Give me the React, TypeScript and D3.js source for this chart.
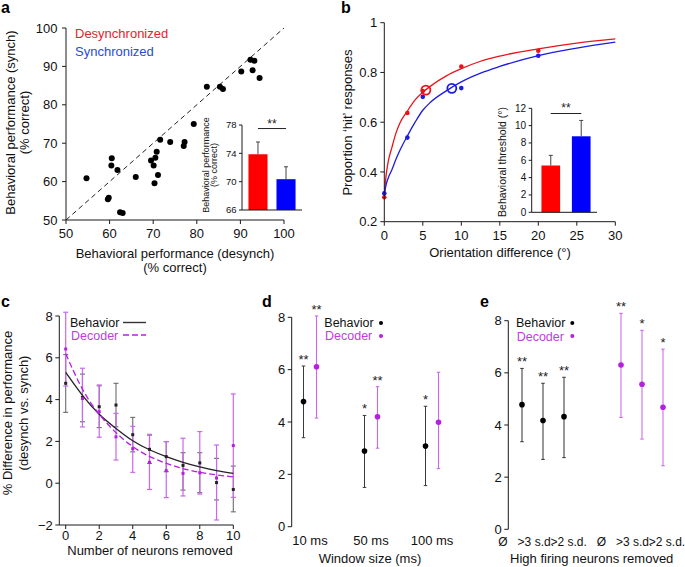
import React from 'react';
import * as d3 from 'd3';

const FONT = "'Liberation Sans', Arial, Helvetica, sans-serif";

// ---------- Panel a data ----------
const perfDesynch = [54.7, 60.5, 60.4, 61.8, 59.8, 59.6, 62.4, 63.0, 66.0, 69.5, 70.1, 70.5, 70.8, 70.3, 71.1, 71.6, 73.9, 77.2, 77.0, 79.3, 82.3, 85.3, 86.0, 90.2, 92.3, 93.2, 92.8, 94.4];
const perfSynch = [60.9, 66.1, 64.2, 63.0, 55.8, 55.4, 52.0, 51.8, 61.2, 65.5, 64.2, 66.2, 67.8, 59.6, 61.7, 70.9, 70.3, 70.3, 69.3, 75.0, 84.7, 84.7, 84.1, 88.7, 91.7, 91.5, 89.0, 87.0];
const aTicks = [50, 60, 70, 80, 90, 100];
const conditions = ['Desynchronized', 'Synchronized'];
const insetPerfMean = [73.87, 70.35];
const insetPerfErr = [75.6, 72.1];
const insetPerfTicks = [66, 70, 74, 78];

// ---------- Panel b data ----------
const orientations = [0, 3, 5, 10, 20];
const hitDesynch = [0.298, 0.637, 0.725, 0.824, 0.887];
const hitSynch = [0.314, 0.538, 0.702, 0.737, 0.867];
const fitX = [0, 0.25, 0.5, 1, 1.5, 2, 3, 4, 5, 6, 8, 10, 12.5, 15, 20, 25, 30];
const fitDesynch = [0.31, 0.39, 0.44, 0.5, 0.555, 0.595, 0.645, 0.69, 0.72, 0.745, 0.785, 0.815, 0.845, 0.866, 0.895, 0.918, 0.935];
const fitSynch = [0.31, 0.35, 0.375, 0.41, 0.45, 0.485, 0.545, 0.6, 0.648, 0.68, 0.725, 0.762, 0.797, 0.824, 0.868, 0.898, 0.922];
const thresholdMean = [5.4, 8.77];
const thresholdErr = [6.57, 10.6];
const thresholdHit = [0.729, 0.736];
const bXTicks = [0, 5, 10, 15, 20, 25, 30];
const bYTicks = [0.2, 0.4, 0.6, 0.8, 1];
const bYTickLabels = ['0.2', '0.4', '0.6', '0.8', '1'];
const insetThreshTicks = [0, 2, 4, 6, 8, 10, 12];

// ---------- Panel c data ----------
const neuronsRemoved = [0, 1, 2, 3, 4, 5, 6, 7, 8, 9, 10];
const cBehMean = [4.78, 4.1, 3.66, 3.74, 2.32, 1.62, 1.27, 0.85, 0.97, 0.03, -0.3];
const cBehLo = [3.39, 2.94, 2.66, 2.7, 1.5, 0.95, 0.55, -0.33, -0.45, -0.8, -1.37];
const cBehHi = [6.15, 5.22, 4.66, 4.78, 3.15, 2.3, 1.99, 1.46, 1.46, 1.19, 0.82];
const cDecMean = [6.42, 4.05, 3.42, 2.22, 1.65, 1.0, 0.6, 0.47, 0.5, 0.25, 1.8];
const cDecLo = [4.65, 2.69, 2.2, 1.11, 0.52, -0.3, -0.69, -0.61, -0.52, -1.76, -0.68];
const cDecHi = [8.18, 5.5, 4.7, 3.34, 2.72, 2.34, 1.99, 2.15, 2.47, 1.83, 4.27];
const cBehFit = [5.3, 4.2, 3.3, 2.62, 2.03, 1.6, 1.27, 1.0, 0.78, 0.6, 0.47];
const cDecFit = [6.2, 4.5, 3.3, 2.42, 1.75, 1.28, 0.95, 0.7, 0.52, 0.4, 0.3];
const cXTicks = [0, 2, 4, 6, 8, 10];
const cYTicks = [-2, 0, 2, 4, 6, 8];

// ---------- Panel d data ----------
const windows = ['10 ms', '50 ms', '100 ms'];
const dBehMean = [4.78, 2.89, 3.08];
const dBehLo = [3.4, 1.5, 1.57];
const dBehHi = [6.14, 4.25, 4.6];
const dDecMean = [6.11, 4.2, 3.99];
const dDecLo = [4.15, 3.0, 2.22];
const dDecHi = [8.05, 5.35, 5.9];
const dBehStars = ['**', '*', '*'];
const dDecStars = ['**', '**', ''];
const deYTicks = [0, 2, 4, 6, 8];

// ---------- Panel e data ----------
const removal = ['Ø', '>3 s.d.', '>2 s.d.'];
const eGroups = ['Behavior', 'Decoder'];
const eBehMean = [4.78, 4.17, 4.32];
const eBehLo = [3.36, 2.68, 2.75];
const eBehHi = [6.17, 5.6, 5.83];
const eDecMean = [6.3, 5.56, 4.68];
const eDecLo = [4.29, 3.46, 2.44];
const eDecHi = [8.28, 7.63, 6.91];
const eBehStars = ['**', '**', '**'];
const eDecStars = ['**', '*', '*'];

// ---------- styles ----------
const RED = '#ff0000';
const BLUE = '#0000ff';
const RED_LINE = '#e8141c';
const BLUE_LINE = '#1c1ce0';
const RED_TEXT = '#e5232c';
const BLUE_TEXT = '#2a4bd6';
const DEC = '#b51fe0';
const DEC_BAR = '#c968ec';
const DEC_TEXT = '#c03ce0';
const AXIS = '#1a1a1a';

type Lin = d3.ScaleLinear<number, number>;

function YAxis({ x, scale, ticks, labels, fs = 13, len = 4, pad = 3 }: { x: number; scale: Lin; ticks: number[]; labels?: string[]; fs?: number; len?: number; pad?: number }) {
  const dom = scale.domain();
  return (
    <g>
      <line x1={x} x2={x} y1={scale(dom[0])} y2={scale(dom[1])} stroke={AXIS} strokeWidth={1} />
      {ticks.map((t, i) => (
        <g key={i}>
          <line x1={x - len} x2={x} y1={scale(t)} y2={scale(t)} stroke={AXIS} strokeWidth={1} />
          <text x={x - len - pad} y={scale(t)} dy="0.35em" textAnchor="end" fontSize={fs} fill="#111">
            {labels ? labels[i] : String(t).replace('-', '\u2212')}
          </text>
        </g>
      ))}
    </g>
  );
}

function XAxis({ y, scale, ticks, x0, x1, fs = 13, len = 4, labelDy = 18 }: { y: number; scale: Lin; ticks: number[]; x0: number; x1: number; fs?: number; len?: number; labelDy?: number }) {
  return (
    <g>
      <line x1={x0} x2={x1} y1={y} y2={y} stroke={AXIS} strokeWidth={1} />
      {ticks.map((t, i) => (
        <g key={i}>
          <line x1={scale(t)} x2={scale(t)} y1={y} y2={y + len} stroke={AXIS} strokeWidth={1} />
          <text x={scale(t)} y={y + labelDy} textAnchor="middle" fontSize={fs} fill="#111">{t}</text>
        </g>
      ))}
    </g>
  );
}

function VLabel({ x, y, text, fs = 13, fill = '#111' }: { x: number; y: number; text: string; fs?: number; fill?: string }) {
  return (
    <text transform={`translate(${x},${y}) rotate(-90)`} textAnchor="middle" dy="0.35em" fontSize={fs} fill={fill}>{text}</text>
  );
}

function ErrBar({ x, y1, y2, color, cap = 4, w = 1, capTop = true, capBottom = true }: { x: number; y1: number; y2: number; color: string; cap?: number; w?: number; capTop?: boolean; capBottom?: boolean }) {
  return (
    <g stroke={color} strokeWidth={w}>
      <line x1={x} x2={x} y1={y1} y2={y2} />
      {capBottom && <line x1={x - cap / 2} x2={x + cap / 2} y1={y1} y2={y1} />}
      {capTop && <line x1={x - cap / 2} x2={x + cap / 2} y1={y2} y2={y2} />}
    </g>
  );
}

function PanelA() {
  const x = d3.scaleLinear().domain([50, 100]).range([66, 284]);
  const y = d3.scaleLinear().domain([50, 100]).range([220, 28]);
  const ix = d3.scaleBand<string>().domain(conditions).range([242, 302]).paddingInner(0.32).paddingOuter(0.23);
  const iy = d3.scaleLinear().domain([66, 78]).range([210, 125]);
  const colors = [RED, BLUE];
  const c0 = ix(conditions[0])! + ix.bandwidth() / 2;
  const c1 = ix(conditions[1])! + ix.bandwidth() / 2;
  const sigY = iy(77.5);
  return (
    <g>
      <text x={1} y={13} fontSize={16} fontWeight="bold">a</text>
      <line x1={x(50)} y1={y(50)} x2={x(100)} y2={y(100)} stroke="#222" strokeWidth={1} strokeDasharray="5,3.5" />
      {perfDesynch.map((d, i) => (
        <circle key={i} cx={x(d)} cy={y(perfSynch[i])} r={3} fill="#000" />
      ))}
      <YAxis x={x(50)} scale={y} ticks={aTicks} len={4} pad={4.5} />
      <XAxis y={y(50)} scale={x} ticks={aTicks} x0={x(50)} x1={x(100)} />
      <text x={175} y={257.5} textAnchor="middle" fontSize={13} fill="#111">Behavioral performance (desynch)</text>
      <text x={175} y={272} textAnchor="middle" fontSize={13} fill="#111">(% correct)</text>
      <VLabel x={10} y={122.5} text="Behavioral performance (synch)" />
      <VLabel x={24} y={122.5} text="(% correct)" />
      <text x={75} y={37.5} fontSize={13} fill={RED_TEXT}>Desynchronized</text>
      <text x={75} y={55.5} fontSize={13} fill={BLUE_TEXT}>Synchronized</text>
      {conditions.map((c, i) => (
        <g key={c}>
          <rect x={ix(c)} y={iy(insetPerfMean[i])} width={ix.bandwidth()} height={iy(66) - iy(insetPerfMean[i])} fill={colors[i]} />
          <ErrBar x={ix(c)! + ix.bandwidth() / 2} y1={iy(insetPerfMean[i])} y2={iy(insetPerfErr[i])} color="#444" cap={4} capBottom={false} />
        </g>
      ))}
      <YAxis x={242} scale={iy} ticks={insetPerfTicks} fs={9.5} len={3} pad={2.5} />
      <line x1={242} x2={302} y1={iy(66)} y2={iy(66)} stroke={AXIS} />
      <line x1={c0} x2={c1} y1={sigY} y2={sigY} stroke="#222" />
      <text x={(c0 + c1) / 2} y={sigY - 1} textAnchor="middle" fontSize={12} fill="#222">**</text>
      <VLabel x={205.5} y={165} text="Behavioral performance" fs={9} />
      <VLabel x={213.5} y={165} text="(% correct)" fs={9} />
    </g>
  );
}

function PanelB() {
  const x = d3.scaleLinear().domain([0, 30]).range([384.3, 615.3]);
  const y = d3.scaleLinear().domain([0.2, 1]).range([221.7, 22.7]);
  const line = d3.line<number>().x((_, i) => x(fitX[i])).curve(d3.curveMonotoneX);
  const ix = d3.scaleBand<string>().domain(conditions).range([532, 600]).paddingInner(0.387).paddingOuter(0.31);
  const iy = d3.scaleLinear().domain([0, 12]).range([212.3, 108.3]);
  const colors = [RED, BLUE];
  const c0 = ix(conditions[0])! + ix.bandwidth() / 2;
  const c1 = ix(conditions[1])! + ix.bandwidth() / 2;
  const sigY = iy(11.4);
  return (
    <g>
      <text x={341} y={13} fontSize={16} fontWeight="bold">b</text>
      <path d={line.y((v) => y(v))(fitDesynch) || ''} fill="none" stroke={RED_LINE} strokeWidth={1.3} />
      <path d={line.y((v) => y(v))(fitSynch) || ''} fill="none" stroke={BLUE_LINE} strokeWidth={1.3} />
      {orientations.map((o, i) => (
        <g key={o}>
          <circle cx={x(o)} cy={y(hitDesynch[i])} r={2.3} fill={RED_LINE} />
          <circle cx={x(o)} cy={y(hitSynch[i])} r={2.3} fill={BLUE_LINE} />
        </g>
      ))}
      <circle cx={x(thresholdMean[0])} cy={y(thresholdHit[0])} r={4.5} fill="none" stroke={RED_LINE} strokeWidth={1.8} />
      <circle cx={x(thresholdMean[1])} cy={y(thresholdHit[1])} r={4.5} fill="none" stroke={BLUE_LINE} strokeWidth={1.8} />
      <YAxis x={x(0)} scale={y} ticks={bYTicks} labels={bYTickLabels} len={4} pad={3} />
      <XAxis y={y(0.2)} scale={x} ticks={bXTicks} x0={x(0)} x1={x(30)} />
      <text x={500} y={257} textAnchor="middle" fontSize={13} fill="#111">Orientation difference (°)</text>
      <VLabel x={347.5} y={122.5} text={'Proportion \u2018hit\u2019 responses'} />
      {conditions.map((c, i) => (
        <g key={c}>
          <rect x={ix(c)} y={iy(thresholdMean[i])} width={ix.bandwidth()} height={iy(0) - iy(thresholdMean[i])} fill={colors[i]} />
          <ErrBar x={ix(c)! + ix.bandwidth() / 2} y1={iy(thresholdMean[i])} y2={iy(thresholdErr[i])} color="#444" cap={4} capBottom={false} />
        </g>
      ))}
      <YAxis x={531.7} scale={iy} ticks={insetThreshTicks} fs={10} len={3} pad={2.5} />
      <line x1={531.7} x2={597} y1={iy(0)} y2={iy(0)} stroke={AXIS} />
      <line x1={c0} x2={c1} y1={sigY} y2={sigY} stroke="#222" />
      <text x={(c0 + c1) / 2} y={sigY - 1.5} textAnchor="middle" fontSize={12} fill="#222">**</text>
      <VLabel x={502} y={162} text="Behavioral threshold (°)" fs={10.5} />
    </g>
  );
}

function PanelC() {
  const x = d3.scaleLinear().domain([0, 10]).range([65.7, 233.3]);
  const y = d3.scaleLinear().domain([-2, 8]).range([525, 316]);
  const line = d3.line<number>().x((_, i) => x(neuronsRemoved[i])).y((v) => y(v)).curve(d3.curveNatural);
  return (
    <g>
      <text x={1} y={307} fontSize={16} fontWeight="bold">c</text>
      {neuronsRemoved.map((n, i) => (
        <ErrBar key={'b' + n} x={x(n)} y1={y(cBehLo[i])} y2={y(cBehHi[i])} color="#6b6b6b" cap={5} w={1.1} />
      ))}
      {neuronsRemoved.map((n, i) => (
        <ErrBar key={'d' + n} x={x(n)} y1={y(cDecLo[i])} y2={y(cDecHi[i])} color={DEC_BAR} cap={5} w={1.2} />
      ))}
      <path d={line(cBehFit) || ''} fill="none" stroke="#222" strokeWidth={1.3} />
      <path d={line(cDecFit) || ''} fill="none" stroke={DEC} strokeWidth={1.3} strokeDasharray="6,3" />
      {neuronsRemoved.map((n, i) => (
        <g key={'p' + n}>
          <rect x={x(n) - 1.5} y={y(cBehMean[i]) - 1.5} width={3} height={3} fill="#222" />
          <rect x={x(n) - 1.5} y={y(cDecMean[i]) - 1.5} width={3} height={3} fill={DEC} />
        </g>
      ))}
      <YAxis x={59.3} scale={y} ticks={cYTicks} len={4} pad={2.5} />
      <XAxis y={525} scale={x} ticks={cXTicks} x0={59.3} x1={x(10)} labelDy={14.5} />
      <text x={150} y={555} textAnchor="middle" fontSize={13} fill="#111">Number of neurons removed</text>
      <VLabel x={7} y={413} text="% Difference in performance" />
      <VLabel x={23} y={413} text="(desynch vs. synch)" />
      <text x={70} y={327} fontSize={12.5} fill="#111">Behavior</text>
      <line x1={123} x2={146} y1={322.5} y2={322.5} stroke="#333" strokeWidth={1.4} />
      <text x={71} y={340.3} fontSize={12.5} fill={DEC_TEXT}>Decoder</text>
      <line x1={123} x2={146} y1={335} y2={335} stroke={DEC} strokeWidth={1.3} strokeDasharray="6,3" />
    </g>
  );
}

function PanelD() {
  const y = d3.scaleLinear().domain([0, 8]).range([526.7, 317.3]);
  const g = d3.scalePoint<string>().domain(windows).range([310, 432]);
  const off = 6.5;
  return (
    <g>
      <text x={262} y={307} fontSize={16} fontWeight="bold">d</text>
      {windows.map((w, i) => {
        const bx = g(w)! - off;
        const dx = g(w)! + off;
        return (
          <g key={w}>
            <ErrBar x={bx} y1={y(dBehLo[i])} y2={y(dBehHi[i])} color="#3a3a3a" cap={3.5} w={1} />
            <ErrBar x={dx} y1={y(dDecLo[i])} y2={y(dDecHi[i])} color={DEC_BAR} cap={3.5} w={1.1} />
            <circle cx={bx} cy={y(dBehMean[i])} r={2.8} fill="#000" />
            <circle cx={dx} cy={y(dDecMean[i])} r={2.8} fill={DEC} />
            <text x={bx} y={y(dBehHi[i]) - 2} textAnchor="middle" fontSize={13} fill="#222">{dBehStars[i]}</text>
            <text x={dx} y={y(dDecHi[i]) - 2} textAnchor="middle" fontSize={13} fill="#222">{dDecStars[i]}</text>
            <text x={g(w)} y={545} textAnchor="middle" fontSize={13} fill="#111">{w}</text>
          </g>
        );
      })}
      <YAxis x={291.7} scale={y} ticks={deYTicks} len={4} pad={2.5} />
      <text x={370} y={562.5} textAnchor="middle" fontSize={13} fill="#111">Window size (ms)</text>
      <text x={324.3} y={327} fontSize={12.5} fill="#111">Behavior</text>
      <circle cx={381} cy={323} r={2} fill="#000" />
      <text x={325} y={340.3} fontSize={12.5} fill={DEC_TEXT}>Decoder</text>
      <circle cx={381} cy={336} r={2} fill={DEC} />
    </g>
  );
}

function PanelE() {
  const y = d3.scaleLinear().domain([0, 8]).range([529.3, 320.7]);
  const grp = d3.scalePoint<string>().domain(eGroups).range([543, 642]);
  const inner = d3.scalePoint<string>().domain(removal).range([-21, 21]);
  const labelX = d3.scalePoint<string>().domain(d3.range(6).map(String)).range([503, 667]);
  const series = [
    { mean: eBehMean, lo: eBehLo, hi: eBehHi, stars: eBehStars, color: '#000', bar: '#3a3a3a' },
    { mean: eDecMean, lo: eDecLo, hi: eDecHi, stars: eDecStars, color: DEC, bar: DEC_BAR },
  ];
  return (
    <g>
      <text x={480} y={307} fontSize={16} fontWeight="bold">e</text>
      {series.map((s, si) =>
        removal.map((r, i) => {
          const px = grp(eGroups[si])! + inner(r)!;
          return (
            <g key={si + r}>
              <ErrBar x={px} y1={y(s.lo[i])} y2={y(s.hi[i])} color={s.bar} cap={3.5} w={1.05} />
              <circle cx={px} cy={y(s.mean[i])} r={2.8} fill={s.color} />
              <text x={px} y={y(s.hi[i]) - 2} textAnchor="middle" fontSize={13} fill="#222">{s.stars[i]}</text>
              <text x={labelX(String(si * 3 + i))} y={546} textAnchor="middle" fontSize={12} fill="#111">{r}</text>
            </g>
          );
        })
      )}
      <YAxis x={508.3} scale={y} ticks={deYTicks} len={4} pad={2.5} />
      <text x={591.7} y={563} textAnchor="middle" fontSize={13} fill="#111">High firing neurons removed</text>
      <text x={516} y={327} fontSize={12.5} fill="#111">Behavior</text>
      <circle cx={572.3} cy={323} r={2} fill="#000" />
      <text x={516.7} y={340.5} fontSize={12.5} fill={DEC_TEXT}>Decoder</text>
      <circle cx={572.3} cy={336} r={2} fill={DEC} />
    </g>
  );
}

export default function App() {
  return (
    <svg
      width={685}
      height={567}
      viewBox="0 0 685 567"
      style={{ position: 'absolute', left: 0, top: 0, background: '#fff', fontFamily: FONT }}
      fontFamily={FONT}
    >
      <rect x={0} y={0} width={685} height={567} fill="#fff" />
      <PanelA />
      <PanelB />
      <PanelC />
      <PanelD />
      <PanelE />
    </svg>
  );
}
